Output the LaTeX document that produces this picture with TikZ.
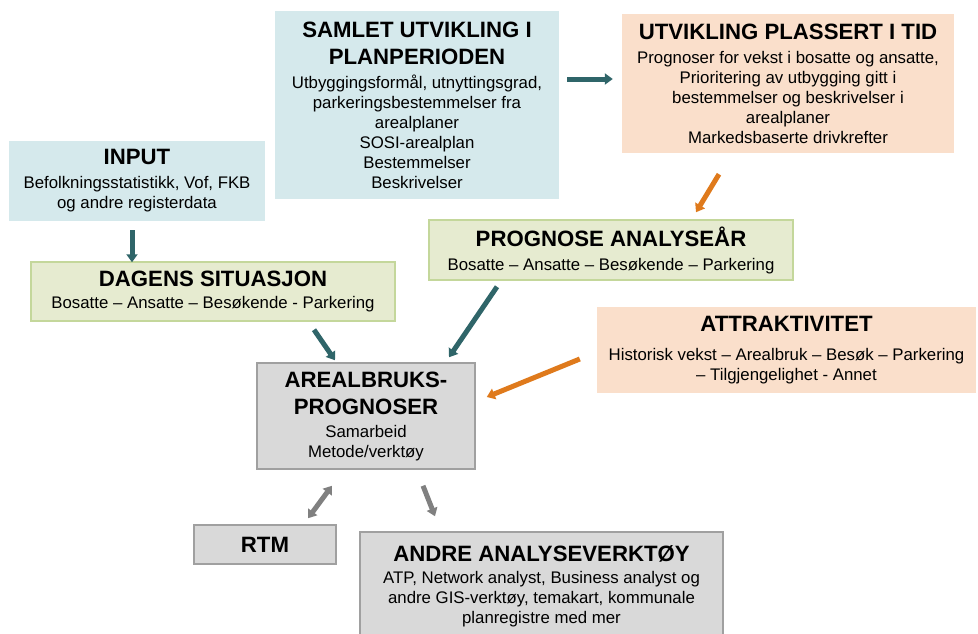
\documentclass[tikz,border=0pt]{standalone}
\usepackage{fontspec}
\setmainfont{Liberation Sans}
\usetikzlibrary{arrows.meta}

\definecolor{boxblue}{HTML}{D5E9EC}
\definecolor{boxgreen}{HTML}{E6EBD0}
\definecolor{linegreen}{HTML}{C4D79B}
\definecolor{boxpeach}{HTML}{FADFCB}
\definecolor{boxgray}{HTML}{D9D9D9}
\definecolor{linegray}{HTML}{A0A0A0}
\definecolor{arrowteal}{HTML}{2F6569}
\definecolor{arroworange}{HTML}{DF7A1C}
\definecolor{arrowgray}{HTML}{808080}

\newcommand{\hd}[1]{{\fontsize{22.2}{26}\selectfont\bfseries #1}}

\begin{document}
\begin{tikzpicture}[x=1pt,y=-1pt,
  box/.style={inner sep=0pt, align=center, font=\fontsize{16.8}{20}\selectfont},
  bluebox/.style={box, fill=boxblue},
  greenbox/.style={box, fill=boxgreen, draw=linegreen, line width=1.5pt},
  peachbox/.style={box, fill=boxpeach},
  graybox/.style={box, fill=boxgray, draw=linegray, line width=1.5pt},
  arr/.style={line width=5pt, -{Triangle[length=8pt,width=11pt]}},
  tealarrow/.style={arr, draw=arrowteal},
  orangearrow/.style={arr, draw=arroworange},
  grayarrow/.style={arr, draw=arrowgray}]
  \useasboundingbox (0,0) rectangle (978,633);

  %draw boxes
  \node[bluebox, minimum width=256pt, minimum height=80pt] (input) at (137,181)
    {\hd{INPUT}\\[4pt] Befolkningsstatistikk, Vof, FKB\\ og andre registerdata};
  \node[bluebox, minimum width=284pt, minimum height=188pt] (samlet) at (417,105)
    {\hd{SAMLET UTVIKLING I}\\[7pt] \hd{PLANPERIODEN}\\[4pt]
     Utbyggingsformål, utnyttingsgrad,\\ parkeringsbestemmelser fra\\ arealplaner\\
     SOSI-arealplan\\ Bestemmelser\\ Beskrivelser};
  \node[peachbox, minimum width=332pt, minimum height=139pt] (utvikling) at (788,83.5)
    {\hd{UTVIKLING PLASSERT I TID}\\[4pt] Prognoser for vekst i bosatte og ansatte,\\
     Prioritering av utbygging gitt i\\ bestemmelser og beskrivelser i\\ arealplaner\\
     Markedsbaserte drivkrefter};
  \node[greenbox, minimum width=364pt, minimum height=59pt] (dagens) at (213,291.5)
    {\hd{DAGENS SITUASJON}\\[2pt] Bosatte – Ansatte – Besøkende - Parkering};
  \node[greenbox, minimum width=364pt, minimum height=60pt] (prognose) at (611,250)
    {\hd{PROGNOSE ANALYSEÅR}\\[4pt] Bosatte – Ansatte – Besøkende – Parkering};
  \node[peachbox, minimum width=379pt, minimum height=86pt] (attraktivitet) at (786.5,350)
    {\hd{ATTRAKTIVITET}\\[9pt] Historisk vekst – Arealbruk – Besøk – Parkering\\
     – Tilgjengelighet - Annet};
  \node[graybox, minimum width=218pt, minimum height=106pt] (areal) at (366,416)
    {\hd{AREALBRUKS-}\\[7pt] \hd{PROGNOSER}\\[3pt] Samarbeid\\ Metode/verktøy};
  \node[graybox, minimum width=142pt, minimum height=39pt] (rtm) at (265,544.5)
    {\hd{RTM}};
  \node[graybox, minimum width=363pt, minimum height=108pt] (andre) at (541.5,586)
    {\hd{ANDRE ANALYSEVERKTØY}\\[2pt] ATP, Network analyst, Business analyst og\\
     andre GIS-verktøy, temakart, kommunale\\ planregistre med mer};

  %draw arrows
  \draw[tealarrow] ([shift={(-5,9)}]input.south) -- ([shift={(-81,1)}]dagens.north);
  \draw[tealarrow] ([shift={(8,-26)}]samlet.east) -- ([shift={(-9,-4.5)}]utvikling.west);
  \draw[orangearrow] ([shift={(-69,21)}]utvikling.south) -- ([shift={(85,-7)}]prognose.north);
  \draw[tealarrow] ([shift={(101,8)}]dagens.south) -- ([shift={(-31,-2)}]areal.north);
  \draw[tealarrow] ([shift={(-114,6)}]prognose.south) -- ([shift={(83,-5)}]areal.north);
  \draw[orangearrow] ([shift={(-17,9)}]attraktivitet.west) -- ([shift={(11,-19)}]areal.east);
  \draw[grayarrow, {Triangle[length=8pt,width=11pt]}-{Triangle[length=8pt,width=11pt]}]
    ([shift={(-34,16)}]areal.south) -- ([shift={(43,-6)}]rtm.north);
  \draw[grayarrow] ([shift={(57,16)}]areal.south) -- ([shift={(-106.5,-15)}]andre.north);
\end{tikzpicture}
\end{document}
